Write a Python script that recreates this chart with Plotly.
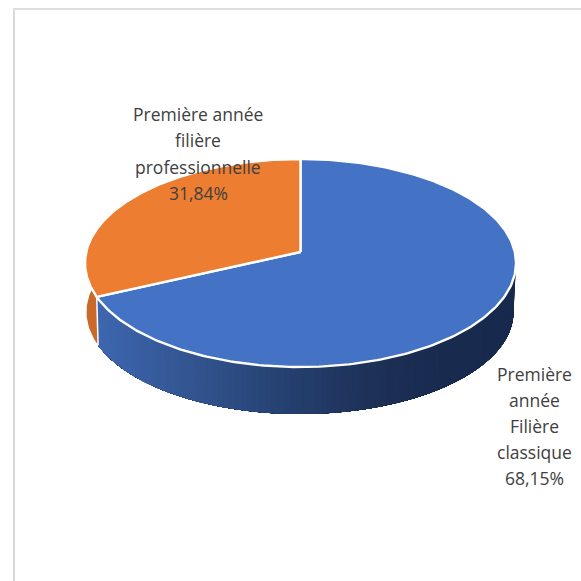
import numpy as np
import plotly.graph_objects as go

# Slice values and their label lines
slice_values = [68.15, 31.84]
slice_lines = [["Première", "année", "Filière", "classique"],
               ["Première année", "filière", "professionnelle"]]
top_colors = ["#4472C4", "#ED7D31"]
side_stops_blue = [(97, (62, 103, 176)), (200, (50, 84, 143)), (300, (36, 63, 110)),
                   (390, (29, 47, 84)), (450, (24, 42, 78)), (520, (23, 42, 78))]
side_orange = "#C96A28"
text_color = "#404040"

# Disc geometry on the page
CX, CY, RX, RY = 300.5, 263.0, 215.5, 104.0
BOT_CX, BOT_CY, BOT_RX, BOT_RY = 300.0, 312.0, 213.5, 102.0
PERSP = 0.106
total = sum(slice_values)


def rim(deg, cx=CX, cy=CY, rx=RX, ry=RY):
    """Project a clockwise-from-top rim angle through the tilted perspective."""
    t = np.radians(deg)
    X, Y = np.sin(t), np.cos(t)
    w = 1 + PERSP * Y
    return (cx + rx * np.sqrt(1 - PERSP ** 2) * X / w,
            cy - ry * (Y + PERSP) / w)


def blue_side_color(x):
    xs = [s[0] for s in side_stops_blue]
    return "rgb({:.0f},{:.0f},{:.0f})".format(
        *[np.interp(x, xs, [s[1][i] for s in side_stops_blue]) for i in range(3)])


fig = go.Figure()
split = slice_values[0] / total * 360


def add_wall(a0, a1):
    """Paint the wall from a0 to a1 as overlapping bands so no seams show."""
    ends = np.linspace(a0, a1, int(abs(a1 - a0) / 1.5) + 2)
    # Bands run from the left end of the wall rightwards, each over the last
    for q, p in zip(ends[::-1][:-1], ends[::-1][1:]):
        span = np.linspace(p, a0, 60)
        tx, ty = rim(span)
        bx, by = rim(span[::-1], BOT_CX, BOT_CY, BOT_RX, BOT_RY)
        mx = (rim(q)[0] + rim(p)[0]) / 2
        fig.add_trace(go.Scatter(x=[*tx, *bx, tx[0]], y=[*ty, *by, ty[0]], mode="lines",
                                 fill="toself", fillcolor=blue_side_color(mx),
                                 line=dict(width=0), hoverinfo="skip"))


def add_flat_wall(a0, a1, colour):
    span = np.linspace(a0, a1, 40)
    tx, ty = rim(span)
    bx, by = rim(span[::-1], BOT_CX, BOT_CY, BOT_RX, BOT_RY)
    fig.add_trace(go.Scatter(x=[*tx, *bx, tx[0]], y=[*ty, *by, ty[0]], mode="lines",
                             fill="toself", fillcolor=colour,
                             line=dict(width=0), hoverinfo="skip"))


# Extruded wall, visible along the front of the disc
add_flat_wall(split, 286, side_orange)
add_wall(split, 70)
sx = [rim(split)[0], rim(split, BOT_CX, BOT_CY, BOT_RX, BOT_RY)[0]]
sy = [rim(split)[1], rim(split, BOT_CX, BOT_CY, BOT_RX, BOT_RY)[1]]
fig.add_trace(go.Scatter(x=sx, y=sy, mode="lines", line=dict(color="white", width=1.5),
                         hoverinfo="skip"))

# Top face wedges, clockwise from twelve o'clock
apex_x, apex_y = CX, CY - RY * PERSP
start = 0.0
for value, colour in zip(slice_values, top_colors):
    sweep = value / total * 360
    px, py = rim(np.linspace(start, start + sweep, 240))
    fig.add_trace(go.Scatter(x=[apex_x, *px, apex_x], y=[apex_y, *py, apex_y], mode="lines",
                             fill="toself", fillcolor=colour,
                             line=dict(color="white", width=2.4), hoverinfo="skip"))
    start += sweep


def pct(v):
    return f"{v:.2f}".replace(".", ",") + "%"


def add_label(lines, x, first_y, step):
    for i, line in enumerate(lines):
        fig.add_annotation(x=x, y=first_y + i * step, text=line, showarrow=False,
                           xanchor="center", yanchor="middle",
                           font=dict(family="Open Sans, sans-serif", size=17.5, color=text_color))


add_label(slice_lines[0] + [pct(slice_values[0])], 534, 374, 26)
add_label(slice_lines[1] + [pct(slice_values[1])], 198, 114, 26.4)

fig.update_layout(
    width=581, height=581, margin=dict(l=0, r=0, t=0, b=0),
    paper_bgcolor="white", plot_bgcolor="white", showlegend=False,
    xaxis=dict(range=[0, 581], visible=False, fixedrange=True),
    yaxis=dict(range=[581, 0], visible=False, fixedrange=True),
    shapes=[
        dict(type="line", xref="paper", yref="paper", x0=14 / 581, x1=14 / 581, y0=0, y1=1 - 8 / 581,
             line=dict(color="#D9D9D9", width=2)),
        dict(type="line", xref="paper", yref="paper", x0=13 / 581, x1=1, y0=1 - 9 / 581, y1=1 - 9 / 581,
             line=dict(color="#DEDEDE", width=2)),
    ],
)
fig.write_html("out.html", config=dict(displayModeBar=False))
